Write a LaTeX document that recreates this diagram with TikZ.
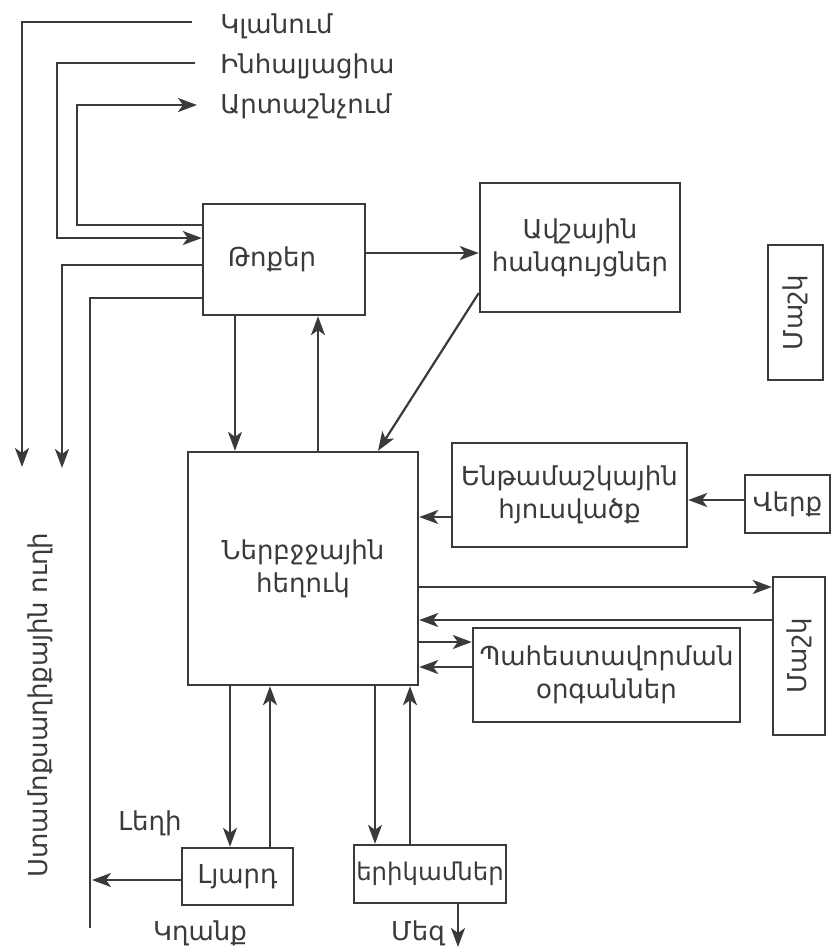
\documentclass[tikz,border=0pt]{standalone}
\usepackage{fontspec}
\setmainfont{DejaVu Sans}
\usetikzlibrary{arrows.meta,calc}
\definecolor{ink}{HTML}{3A3A3A}
\tikzset{
  bx/.style 2 args={draw=ink, line width=1.2pt, minimum width=#1*0.5pt, minimum height=#2*0.5pt, inner sep=0pt, align=center, text=ink},
  ln/.style={draw=ink, line width=1.1pt},
  arr/.style={ln, -{Stealth[length=9.5pt,width=7pt,inset=2.5pt]}},
  lbl/.style={text=ink, inner sep=0pt, align=center},
}
\begin{document}
\begin{tikzpicture}[x=0.5pt,y=-0.5pt,font=\fontsize{13}{16.5}\selectfont]
\useasboundingbox (0,0) rectangle (835,949);
% boxes
\node[bx={162}{111}] (thoq) at (284,259.5) {Թոքեր\hspace*{12pt}};
\node[bx={200}{129}] (avsh) at (580,247.5) {Ավշային\\ հանգույցներ};
\node[bx={55}{135}] (mashka) at (795.5,312.5) {\rotatebox{90}{Մաշկ}};
\node[bx={230}{233}] (nerb) at (303,568.5) {Ներբջջային\\ հեղուկ};
\node[bx={235}{104}] (entham) at (569.5,495) {Ենթամաշկային\\ հյուսվածք};
\node[bx={85}{58}] (verq) at (787.5,504) {Վերք};
\node[bx={52}{158}] (mashkb) at (799,656) {\rotatebox{90}{Մաշկ}};
\node[bx={267}{94}] (pahest) at (606.5,675) {Պահեստավորման\\ օրգաններ};
\node[bx={111}{57}] (lyard) at (237.5,876.5) {Լյարդ};
\node[bx={152}{58},font=\fontsize{12.2}{15}\selectfont] (erik) at (430,874) {երիկամներ};
% labels
\node[lbl,anchor=west] (kl) at (220,26) {Կլանում};
\node[lbl,anchor=west] (inh) at (220,66) {Ինհալյացիա};
\node[lbl,anchor=west] (art) at (220,106) {Արտաշնչում};
\node[lbl] (legh) at (150,823) {Լեղի};
\node[lbl] (kghanq) at (200,933) {Կղանք};
\node[lbl] (mez) at (418,933) {Մեզ};
\node[lbl,rotate=90] (stam) at (40,705) {Ստամոքսաղիքային ուղի};
% free ends
\coordinate (kle) at (192,22);
\coordinate (inhe) at (195,63);
\coordinate (arte) at (197,105);
\coordinate (k1d) at (22,467);
\coordinate (t4d) at (62,468);
\coordinate (t5d) at (90,928);
\coordinate (lyd) at (92,880);
\coordinate (mezd) at (458,947);
% left connectors
\draw[arr] (kle) -- (22,22) -- (k1d);
\draw[arr] (inhe) -- (57,63) -- (57,238) -- (thoq.west |- 0,238);
\draw[arr] (thoq.west |- 0,225) -- (77,225) -- (77,105) -- (arte);
\draw[arr] (thoq.west |- 0,265) -- (62,265) -- (t4d);
\draw[ln] (thoq.west |- 0,298) -- (90,298) -- (t5d);
\draw[arr] (lyard.west |- 0,880) -- (lyd);
% lungs
\draw[arr] (thoq.east |- 0,253) -- (avsh.west |- 0,253);
\draw[arr] (avsh.west |- 0,293) -- (nerb.north -| 378,0);
\draw[arr] (thoq.south -| 235,0) -- (nerb.north -| 235,0);
\draw[arr] (nerb.north -| 318,0) -- (thoq.south -| 318,0);
% right side
\draw[arr] (entham.west |- 0,517) -- (nerb.east |- 0,517);
\draw[arr] (verq.west |- 0,500) -- (entham.east |- 0,500);
\draw[arr] (nerb.east |- 0,587) -- (mashkb.west |- 0,587);
\draw[arr] (mashkb.west |- 0,620) -- (nerb.east |- 0,620);
\draw[arr] (nerb.east |- 0,642) -- (pahest.west |- 0,642);
\draw[arr] (pahest.west |- 0,667) -- (nerb.east |- 0,667);
% bottom
\draw[arr] (nerb.south -| 230,0) -- (lyard.north -| 230,0);
\draw[arr] (lyard.north -| 270,0) -- (nerb.south -| 270,0);
\draw[arr] (nerb.south -| 375,0) -- (erik.north -| 375,0);
\draw[arr] (erik.north -| 410,0) -- (nerb.south -| 410,0);
\draw[arr] (erik.south -| 458,0) -- (mezd);
\end{tikzpicture}
\end{document}
